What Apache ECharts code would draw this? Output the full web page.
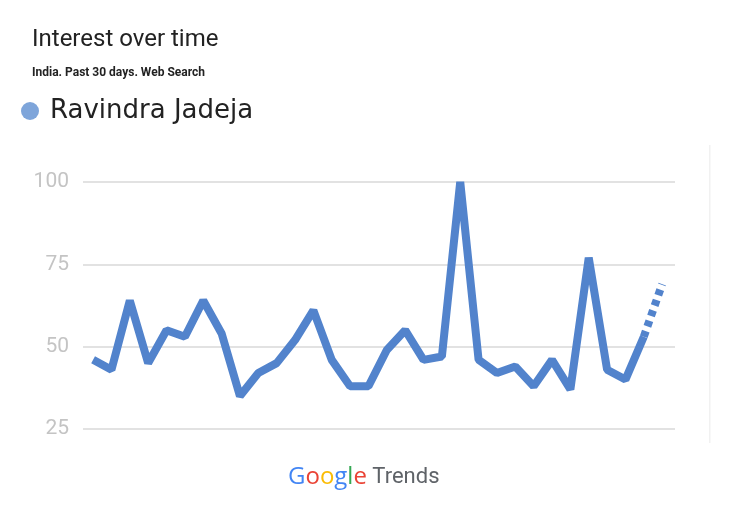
<!DOCTYPE html>
<html>
<head>
<meta charset="utf-8">
<script src="https://cdn.jsdelivr.net/npm/echarts@6/dist/echarts.min.js"></script>
<style>html,body{margin:0;padding:0;background:#fff}#c{width:730px;height:510px}</style>
</head>
<body>
<div id="c"></div>
<script>
var seriesName = 'Ravindra Jadeja';
var dayIndex = [0,1,2,3,4,5,6,7,8,9,10,11,12,13,14,15,16,17,18,19,20,21,22,23,24,25,26,27,28,29,30,31];
var interest = [46,43,64,45,55,53,64,54,35,42,45,52,61,46,38,38,49,55,46,47,100,46,42,44,38,46,37,77,43,40,53,69];
var yTicks = [25,50,75,100];
var partialFrom = 30; // last segment is incomplete (dotted)

var solid = [], dotted = [];
for (var i = 0; i < dayIndex.length; i++) {
  if (i <= partialFrom) solid.push([dayIndex[i], interest[i]]);
  if (i >= partialFrom) dotted.push([dayIndex[i], interest[i]]);
}

var chart = echarts.init(document.getElementById('c'));
chart.setOption({
  animation: false,
  backgroundColor: '#fff',
  title: {
    text: 'Interest over time',
    subtext: 'India. Past 30 days. Web Search',
    left: 27, top: 23, itemGap: 15,
    textStyle: {fontFamily: 'Roboto', fontWeight: 'normal', fontSize: 24, color: '#222'},
    subtextStyle: {fontFamily: 'Roboto', fontWeight: 'bold', fontSize: 12, color: '#222'}
  },
  legend: {
    show: true, left: 21, top: 98, padding: 0, icon: 'circle', itemWidth: 18, itemHeight: 18, itemGap: 8,
    data: [{name: seriesName, itemStyle: {color: '#7ea5da'}}],
    textStyle: {fontFamily: 'DejaVu Sans', fontSize: 26, color: '#222', padding: [0,0,0,6]}
  },
  grid: {left: 83, right: 55, top: 182, bottom: 81},
  xAxis: {
    type: 'value', min: -0.55, max: 31.7,
    axisLine: {show: false}, axisTick: {show: false}, axisLabel: {show: false}, splitLine: {show: false}
  },
  yAxis: {
    type: 'value', min: 25, max: 100, interval: 25,
    axisLine: {show: false}, axisTick: {show: false},
    axisLabel: {fontFamily: 'Roboto', fontSize: 21, color: '#c4c4c4', margin: 14},
    splitLine: {lineStyle: {color: '#e2e2e2', width: 2}}
  },
  graphic: [
    {type: 'rect', shape: {x: 709, y: 145, width: 1.5, height: 298}, style: {fill: '#f1f1f1'}},
    {type: 'text', left: 288, top: 465, style: {
      rich: {
        b: {fill: '#4285F4', fontSize: 24, fontFamily: 'Open Sans'},
        r: {fill: '#EA4335', fontSize: 24, fontFamily: 'Open Sans'},
        y: {fill: '#FBBC05', fontSize: 24, fontFamily: 'Open Sans'},
        g: {fill: '#34A853', fontSize: 24, fontFamily: 'Open Sans'},
        t: {fill: '#5f6368', fontSize: 22, fontFamily: 'Roboto'}
      },
      text: '{b|G}{r|o}{y|o}{b|g}{g|l}{r|e}{t| Trends}'
    }}
  ],
  series: [
    {name: seriesName, type: 'line', data: solid, symbol: 'none', color: '#7ea5da',
     lineStyle: {color: '#5283cc', width: 8, join: 'bevel'}},
    {name: seriesName + ' (partial)', type: 'line', data: dotted, symbol: 'none',
     lineStyle: {color: '#5283cc', width: 8, type: [6, 5]}}
  ]
});
</script>
</body>
</html>
